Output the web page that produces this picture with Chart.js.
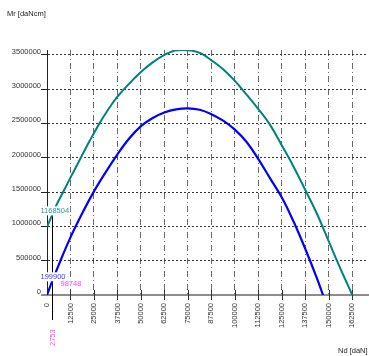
<!DOCTYPE html>
<html>
<head>
<meta charset="utf-8">
<script src="https://cdn.jsdelivr.net/npm/chart.js@4/dist/chart.umd.min.js"></script>
<style>
html,body{margin:0;padding:0;background:#fff;}
canvas{display:block;}
</style>
</head>
<body>
<canvas id="c" width="369" height="356"></canvas>
<script>
// ---- data ----
const xTicks = [0,12500,25000,37500,50000,62500,75000,87500,100000,112500,125000,137500,150000,162500];
const yTicks = [0,500000,1000000,1500000,2000000,2500000,3000000,3500000];

const tealN = [0,2753,5000,8600,12500,18000,22800,27700,32500,37500,43750,50000,56250,62500,68000,72000,77000,82000,87500,93750,100000,106250,112500,118500,125000,131250,137500,143750,150000,156250,162500];
const tealM = [990000,1168504,1310000,1500000,1710000,2000000,2250000,2490000,2700000,2890000,3080000,3250000,3390000,3500000,3562000,3570000,3562000,3520000,3420000,3290000,3120000,2920000,2710000,2490000,2180000,1870000,1530000,1180000,780000,380000,0];

const blueN = [0,2753,6250,12500,18750,25000,31250,37500,43750,50000,56250,62500,68750,75000,81250,87500,93750,100000,106250,112500,118750,125000,131250,137500,143750,146900];
const blueM = [0,199900,440000,840000,1190000,1510000,1790000,2050000,2280000,2460000,2580000,2660000,2705000,2720000,2700000,2635000,2540000,2410000,2230000,1980000,1700000,1420000,1070000,670000,240000,0];

const markN = 2753;
const markTeal = 1168504;
const markBlue = 199900;
const extraLabel = "98748";
const yTitle = "Mr [daNcm]";
const xTitle = "Nd [daN]";

const FONT = "'Liberation Sans', Arial, sans-serif";

const pts = (xs, ys) => xs.map((x, i) => ({x: x, y: ys[i]}));

const overlay = {
  id: 'overlay',
  beforeDatasetsDraw(chart) {
    const ctx = chart.ctx;
    const xs = chart.scales.x, ys = chart.scales.y;
    const y0 = ys.getPixelForValue(0);
    ctx.save();
    ctx.strokeStyle = '#8c8c8c';
    ctx.lineWidth = 2;
    ctx.beginPath();
    ctx.moveTo(41, y0);
    ctx.lineTo(369, y0);
    ctx.stroke();
    ctx.strokeStyle = '#333';
    ctx.lineWidth = 1;
    xTicks.forEach(v => {
      if (v === 0) return;
      const px = Math.round(xs.getPixelForValue(v)) + 0.5;
      ctx.beginPath();
      ctx.moveTo(px, y0 - 5);
      ctx.lineTo(px, y0 + 5);
      ctx.stroke();
    });
    const mx = Math.round(xs.getPixelForValue(markN)) + 0.5;
    ctx.strokeStyle = '#000';
    ctx.lineWidth = 1;
    ctx.beginPath();
    ctx.moveTo(mx, ys.getPixelForValue(markTeal));
    ctx.lineTo(mx, 320);
    ctx.stroke();
    ctx.restore();
  },
  afterDatasetsDraw(chart) {
    const ctx = chart.ctx;
    const xs = chart.scales.x, ys = chart.scales.y;
    const mx = xs.getPixelForValue(markN);
    ctx.save();
    ctx.font = '7.5px ' + FONT;
    ctx.textBaseline = 'middle';
    ctx.textAlign = 'left';
    const label = (txt, x, y, col) => {
      const w = ctx.measureText(txt).width;
      ctx.fillStyle = '#fff';
      ctx.fillRect(x - 1, y - 4.5, w + 2, 9);
      ctx.fillStyle = col;
      ctx.fillText(txt, x, y);
    };
    const ty = ys.getPixelForValue(markTeal);
    const by = ys.getPixelForValue(markBlue);
    label(String(markTeal), mx - 11.7, ty - 4, '#2a9a9a');
    label(String(markBlue), mx - 11.7, by - 4.5, '#3a3aff');
    label(extraLabel, mx + 8.3, by + 3, '#ff40ff');
    ctx.save();
    ctx.translate(mx + 0.5, 346);
    ctx.rotate(-Math.PI / 2);
    ctx.fillStyle = '#ff40ff';
    ctx.fillText(String(markN), 0, 0);
    ctx.restore();
    ctx.fillStyle = '#222';
    ctx.fillText(yTitle, 7, 14);
    ctx.fillText(xTitle, 338, 351);
    ctx.restore();
  }
};

new Chart(document.getElementById('c'), {
  type: 'line',
  data: {
    datasets: [
      {data: pts(tealN, tealM), borderColor: '#008080', borderWidth: 2, pointRadius: 0, fill: false, tension: 0.4},
      {data: pts(blueN, blueM), borderColor: '#0000ff', borderWidth: 2.2, pointRadius: 0, fill: false, tension: 0.4}
    ]
  },
  options: {
    responsive: false,
    animation: false,
    events: [],
    layout: {padding: {top: 50, right: 3, left: 0, bottom: 0}},
    plugins: {legend: {display: false}, tooltip: {enabled: false}},
    scales: {
      x: {
        type: 'linear',
        min: 0,
        max: 169800,
        afterBuildTicks: s => { s.ticks = xTicks.map(v => ({value: v})); },
        afterFit: s => { s.height = 61; },
        grid: {
          color: c => (c.tick && c.tick.value === 0) ? 'rgba(0,0,0,0)' : '#6a6a6a',
          lineWidth: 1,
          tickLength: 5,
          tickColor: 'rgba(0,0,0,0)'
        },
        border: {display: false, dash: [6, 3, 1, 3]},
        ticks: {
          autoSkip: false,
          maxRotation: 90,
          minRotation: 90,
          padding: 3,
          color: '#333',
          font: {family: FONT, size: 7.5},
          callback: v => String(v)
        }
      },
      y: {
        type: 'linear',
        min: 0,
        max: 3570000,
        afterBuildTicks: s => { s.ticks = yTicks.map(v => ({value: v})); },
        afterFit: s => { s.width = 47; },
        grid: {
          color: c => (c.tick && c.tick.value === 0) ? 'rgba(0,0,0,0)' : '#333',
          lineWidth: 1,
          tickLength: 6,
          tickColor: c => (c.tick && c.tick.value === 0) ? '#8c8c8c' : '#222'
        },
        border: {display: true, color: '#222', width: 1, dash: [2, 2]},
        ticks: {
          padding: 0,
          labelOffset: -3,
          color: '#333',
          font: {family: FONT, size: 7.5},
          callback: v => String(v)
        }
      }
    }
  },
  plugins: [overlay]
});
</script>
</body>
</html>
